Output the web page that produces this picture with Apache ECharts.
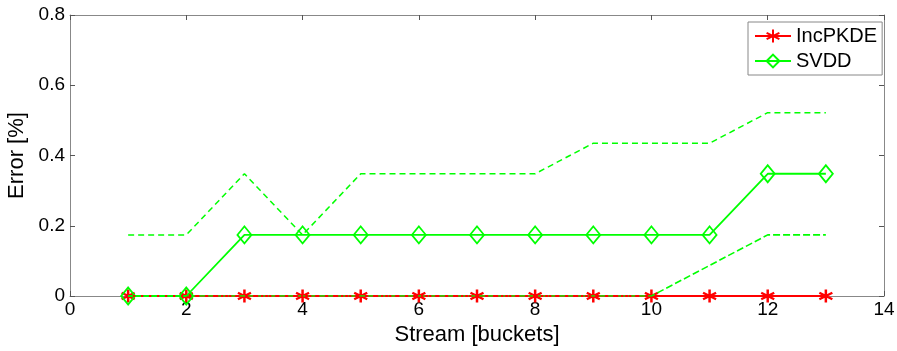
<!DOCTYPE html>
<html><head><meta charset="utf-8">
<script src="https://cdn.jsdelivr.net/npm/echarts@6/dist/echarts.min.js"></script>
<style>html,body{margin:0;padding:0;background:#fff}#c{width:897px;height:351px}</style>
</head><body><div id="c"></div>
<script>
var buckets = [1,2,3,4,5,6,7,8,9,10,11,12,13];
var incMean = [0,0,0,0,0,0,0,0,0,0,0,0,0];
var incUpper = [0,0,0,0,0,0,0,0,0,0,0,0,0];
var incLower = [0,0,0,0,0,0,0,0,0,0,0,0,0];
var svddMean = [0,0,0.174,0.174,0.174,0.174,0.174,0.174,0.174,0.174,0.174,0.348,0.348];
var svddUpper = [0.174,0.174,0.348,0.174,0.348,0.348,0.348,0.348,0.435,0.435,0.435,0.522,0.522];
var svddLower = [0,0,0,0,0,0,0,0,0,0,0.087,0.174,0.174];
var xTicks = [0,2,4,6,8,10,12,14];
var yTicks = [0,0.2,0.4,0.6,0.8];

function pairs(ys){ return buckets.map(function(x,i){return [x,ys[i]];}); }
var RED = '#ff0000', GREEN = '#00ff00';
var FONT = 'Liberation Sans, Arial, sans-serif';
var star = 'path://M0,-10L0,10M-8.66,-5L8.66,5M-8.66,5L8.66,-5';

var chart = echarts.init(document.getElementById('c'), null, {renderer:'canvas'});
function ax(extra){
  return Object.assign({
    axisLine:{show:true, onZero:false, lineStyle:{color:'#888', width:1}},
    axisTick:{show:true, inside:true, length:5, lineStyle:{color:'#555'}},
    splitLine:{show:false}
  }, extra);
}
chart.setOption({
  animation:false,
  backgroundColor:'#fff',
  grid:{left:70, right:13, top:15, bottom:55, containLabel:false, outerBoundsMode:'none'},
  xAxis:[
    ax({type:'value', min:0, max:14, interval:2, position:'bottom',
      name:'Stream [buckets]', nameLocation:'middle', nameGap:27,
      nameTextStyle:{fontFamily:FONT, fontSize:22, color:'#000'},
      axisLabel:{fontFamily:FONT, fontSize:19, color:'#000', margin:4}}),
    ax({type:'value', min:0, max:14, interval:2, position:'top',
      axisLabel:{show:false}})
  ],
  yAxis:[
    ax({type:'value', min:0, max:0.8, interval:0.2, position:'left',
      name:'Error [%]', nameLocation:'middle', nameGap:37,
      nameTextStyle:{fontFamily:FONT, fontSize:22, color:'#000'},
      axisLabel:{fontFamily:FONT, fontSize:19, color:'#000', margin:5,
        formatter:function(v){return v===0?'0':v.toFixed(1);}}}),
    ax({type:'value', min:0, max:0.8, interval:0.2, position:'right',
      axisLabel:{show:false}})
  ],
  legend:{
    show:true, data:['IncPKDE','SVDD'], orient:'vertical',
    left:748, top:22,
    backgroundColor:'#fff', borderColor:'#888', borderWidth:1,
    padding:[4,5,4,6], itemGap:5, itemWidth:36, itemHeight:16,
    textStyle:{fontFamily:FONT, fontSize:20, color:'#000'}
  },
  series:[
    {name:'IncPKDE', type:'line', data:pairs(incMean), z:2,
      lineStyle:{color:RED, width:2}, symbol:star, symbolSize:13,
      itemStyle:{color:RED, borderColor:RED, borderWidth:2.5}},
    {name:'SVDD upper', type:'line', data:pairs(svddUpper), symbol:'none', z:3,
      lineStyle:{color:GREEN, width:1.5, type:[6,4]}},
    {name:'SVDD lower', type:'line', data:pairs(svddLower), symbol:'none', z:3,
      lineStyle:{color:GREEN, width:1.6, type:[7,3]}},
    {name:'SVDD', type:'line', data:pairs(svddMean), z:4,
      lineStyle:{color:GREEN, width:1.8}, symbol:'diamond', symbolSize:[14,17],
      itemStyle:{color:'rgba(255,255,255,0)', borderColor:GREEN, borderWidth:1.8}},
    {name:'IncPKDE upper', type:'line', data:pairs(incUpper).slice(0,10), symbol:'none', z:5,
      lineStyle:{color:RED, width:2, type:[2,6], dashOffset:3}},
    {name:'IncPKDE lower', type:'line', data:pairs(incLower).slice(0,10), symbol:'none', z:5,
      lineStyle:{color:RED, width:2, type:[2,6], dashOffset:3}}
  ]
});
</script></body></html>
